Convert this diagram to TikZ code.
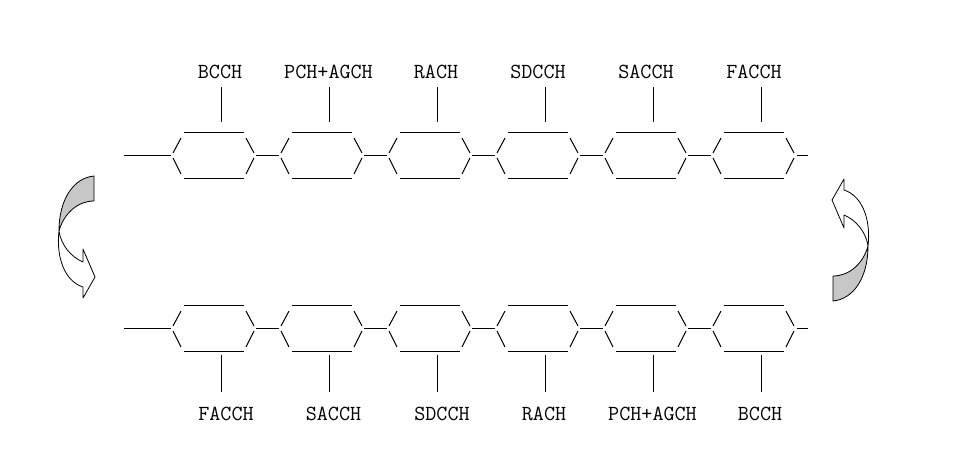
\documentclass[tikz,border=0pt]{standalone}
\usepackage{fontspec}
\begin{document}
\begin{tikzpicture}[x=1pt,y=-1pt,
  seg/.style={line width=1pt,draw=black},
  lbl/.style={inner sep=0pt,font=\ttfamily\fontsize{21.5}{22}\selectfont},
  ribbon/.style={line width=0.8pt,draw=black,line join=round}]
\useasboundingbox[fill=white] (0,0) rectangle (971,474);
% rows
\foreach \row/\c in {t/155,b/328}{
  \coordinate (\row lead) at (124,\c);
  \coordinate (\row trail) at (808,\c);
  \foreach \k in {0,...,5}{
    \pgfmathsetmacro{\o}{108*\k}
    \coordinate (\row L\k) at ({173+\o},\c);
    \coordinate (\row R\k) at ({254+\o},\c);
    \draw[seg] ({184+\o},{\c-23}) -- ({244+\o},{\c-23});
    \draw[seg] ({184+\o},{\c+23}) -- ({244+\o},{\c+23});
    \draw[seg] ({181+\o},{\c-17}) -- ({173+\o},{\c-2});
    \draw[seg] ({173+\o},{\c+3}) -- ({181+\o},{\c+19});
    \draw[seg] ({246+\o},{\c-17}) -- ({254+\o},{\c-2});
    \draw[seg] ({254+\o},{\c+3}) -- ({246+\o},{\c+19});
  }
  \draw[seg] (\row lead) -- ([xshift=-2pt]\row L0);
  \foreach \k [evaluate=\k as \n using int(\k+1)] in {0,...,4}{
    \draw[seg] ([xshift=2pt]\row R\k) -- ([xshift=-2pt]\row L\n);
  }
  \draw[seg] ([xshift=3pt]\row R5) -- (\row trail);
}
% labels and ticks
\foreach \k/\txt/\lx in {0/BCCH/220,1/PCH+AGCH/328.5,2/RACH/436,3/SDCCH/538,4/SACCH/646,5/FACCH/754}{
  \pgfmathsetmacro{\x}{221+108*\k}
  \node[lbl] (tl\k) at (\lx,72) {\txt};
  \coordinate (ta\k) at (\x,87);
  \coordinate (tb\k) at (\x,122);
  \draw[seg] (ta\k) -- (tb\k);
}
\foreach \k/\txt/\lx in {0/FACCH/226,1/SACCH/333.5,2/SDCCH/442,3/RACH/544,4/PCH+AGCH/652.5,5/BCCH/760}{
  \pgfmathsetmacro{\x}{221+108*\k}
  \node[lbl] (bl\k) at (\lx,414) {\txt};
  \coordinate (ba\k) at (\x,355);
  \coordinate (bb\k) at (\x,392);
  \draw[seg] (ba\k) -- (bb\k);
}
% curved arrows
\foreach \ang in {0,180}{
\begin{scope}[rotate around={\ang:(463.5,238.5)}]
  \draw[ribbon,fill=white] (59,231) .. controls (56,256) and (64,281) .. (83,287)
     -- (83,298) -- (95,277) -- (83,249) -- (83,262)
     .. controls (71,257) and (61,245) .. (59,231) -- cycle;
  \draw[ribbon,fill=black!22] (94,176) .. controls (73,178) and (59,200) .. (59,231)
     .. controls (64,213) and (78,201) .. (94,201) -- cycle;
\end{scope}
}
\end{tikzpicture}
\end{document}
